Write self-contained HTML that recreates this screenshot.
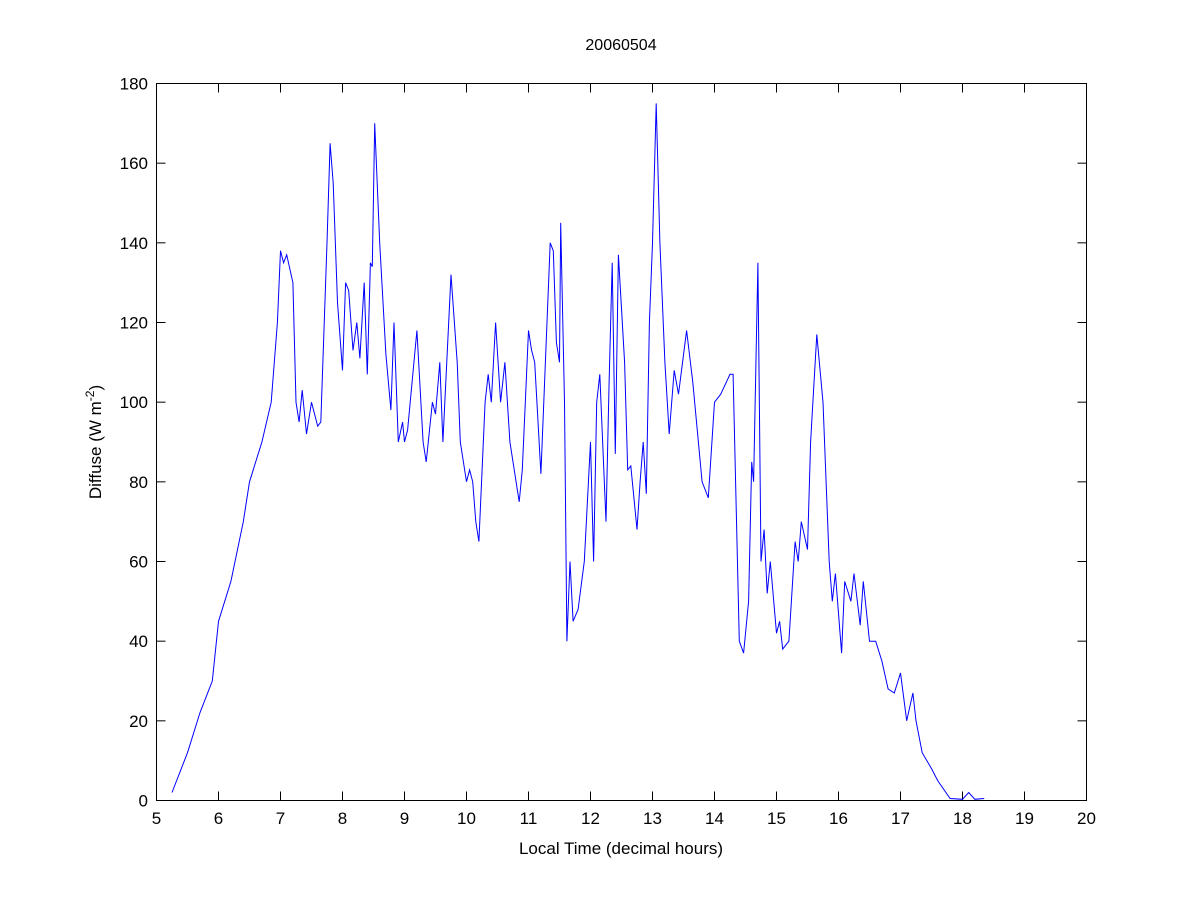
<!DOCTYPE html>
<html><head><meta charset="utf-8"><style>
html,body{margin:0;padding:0;background:#fff;}
svg{display:block;font-family:"Liberation Sans",Arial,sans-serif;}
</style></head><body>
<svg id="chart" width="1200" height="900" viewBox="0 0 1200 900" xmlns="http://www.w3.org/2000/svg">
<rect x="0" y="0" width="1200" height="900" fill="#fff"/>
<text x="621" y="50" font-size="16" text-anchor="middle">20060504</text>
<g id="ticks"></g>
<path id="series" fill="none" stroke="#0000ff" stroke-width="1"/>
<rect x="156.5" y="83.5" width="930" height="717" fill="none" stroke="#000" stroke-width="1"/>
<text x="621" y="854" font-size="17" text-anchor="middle">Local Time (decimal hours)</text>
<text transform="translate(101,442) rotate(-90)" font-size="17" text-anchor="middle">Diffuse (W m<tspan dy="-7" font-size="12">-2</tspan><tspan dy="7">)</tspan></text>
</svg>
<script>
const hours = [5.25,5.5,5.7,5.9,6.0,6.2,6.4,6.5,6.7,6.85,6.95,7.0,7.05,7.1,7.2,7.25,7.3,7.35,7.42,7.5,7.6,7.65,7.75,7.8,7.85,7.92,8.0,8.05,8.1,8.17,8.23,8.28,8.35,8.4,8.45,8.48,8.52,8.6,8.7,8.78,8.83,8.9,8.97,9.0,9.05,9.2,9.3,9.35,9.45,9.5,9.57,9.62,9.75,9.85,9.9,10.0,10.05,10.1,10.15,10.2,10.3,10.35,10.4,10.47,10.55,10.62,10.7,10.85,10.9,11.0,11.05,11.1,11.2,11.35,11.4,11.45,11.5,11.52,11.58,11.62,11.67,11.72,11.8,11.9,12.0,12.05,12.1,12.15,12.25,12.3,12.35,12.4,12.45,12.55,12.6,12.65,12.75,12.8,12.85,12.9,12.95,13.0,13.06,13.12,13.2,13.27,13.35,13.42,13.55,13.65,13.8,13.9,14.0,14.1,14.25,14.3,14.4,14.47,14.55,14.6,14.63,14.7,14.75,14.8,14.85,14.9,15.0,15.05,15.1,15.2,15.3,15.35,15.4,15.5,15.55,15.65,15.75,15.85,15.9,15.95,16.05,16.1,16.2,16.25,16.35,16.4,16.5,16.6,16.7,16.8,16.9,17.0,17.1,17.2,17.25,17.35,17.5,17.6,17.8,18.0,18.1,18.2,18.35];
const diffuse = [2,12,22,30,45,55,70,80,90,100,120,138,135,137,130,100,95,103,92,100,94,95,140,165,155,125,108,130,128,113,120,111,130,107,135,134,170,140,112,98,120,90,95,90,93,118,90,85,100,97,110,90,132,110,90,80,83,80,70,65,100,107,100,120,100,110,90,75,83,118,113,110,82,140,138,115,110,145,100,40,60,45,48,60,90,60,100,107,70,105,135,87,137,110,83,84,68,80,90,77,120,140,175,140,110,92,108,102,118,105,80,76,100,102,107,107,40,37,50,85,80,135,60,68,52,60,42,45,38,40,65,60,70,63,90,117,100,60,50,57,37,55,50,57,44,55,40,40,35,28,27,32,20,27,20,12,8,5,0.5,0.3,2,0.3,0.5];
const xTicks = [5,6,7,8,9,10,11,12,13,14,15,16,17,18,19,20];
const yTicks = [0,20,40,60,80,100,120,140,160,180];

const X0=156.5, X1=1086.5, Y0=800.5, Y1=83.5;
function xScale(h){return X0+(h-5)/15*(X1-X0);}
function yScale(v){return Y0-(v/180)*(Y0-Y1);}
const NS="http://www.w3.org/2000/svg";
const g=document.getElementById('ticks');
function line(x1,y1,x2,y2){const l=document.createElementNS(NS,'line');l.setAttribute('x1',x1);l.setAttribute('y1',y1);l.setAttribute('x2',x2);l.setAttribute('y2',y2);l.setAttribute('stroke','#000');l.setAttribute('stroke-width','1');


g.appendChild(l);}
xTicks.forEach(t=>{const x=xScale(t);
line(x,Y0,x,Y0-9);line(x,Y1,x,Y1+9);
const tx=document.createElementNS(NS,'text');tx.setAttribute('x',x);tx.setAttribute('y',824);tx.setAttribute('font-size','17');tx.setAttribute('text-anchor','middle');tx.textContent=t;


g.appendChild(tx);});
yTicks.forEach(t=>{const y=yScale(t);
line(X0,y,X0+9,y);line(X1,y,X1-9,y);
const tx=document.createElementNS(NS,'text');tx.setAttribute('x',148);tx.setAttribute('y',y+6);tx.setAttribute('font-size','17');tx.setAttribute('text-anchor','end');tx.textContent=t;


g.appendChild(tx);});
let d='';
hours.forEach((h,i)=>{d+=(i?'L':'M')+xScale(h).toFixed(1)+','+yScale(diffuse[i]).toFixed(1);});
document.getElementById('series').setAttribute('d',d);
</script>
</body></html>
